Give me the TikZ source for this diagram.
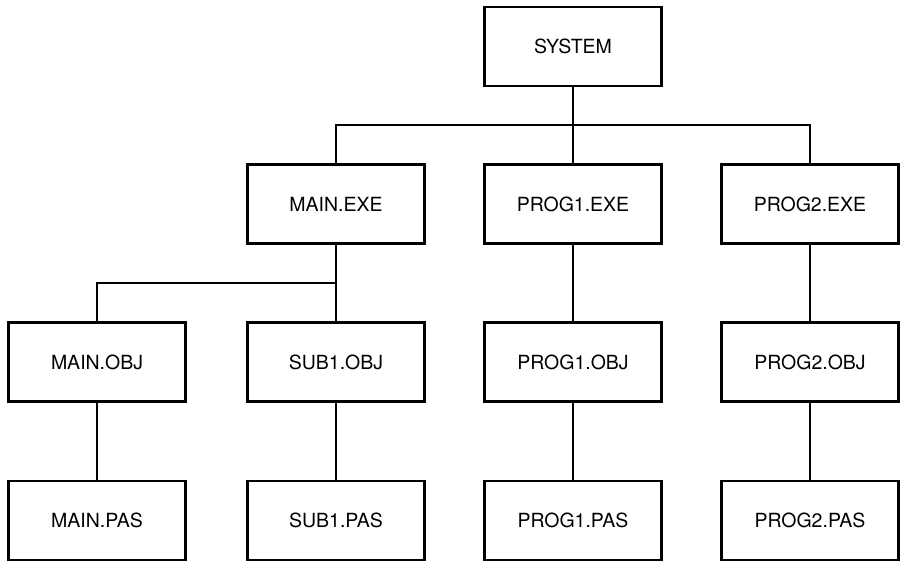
\documentclass[tikz,border=0pt]{standalone}
\usepackage{fontspec}
\setmainfont{TeX Gyre Heros}
\begin{document}
\begin{tikzpicture}[x=1pt,y=-1pt,
  filebox/.style={draw, line width=2.2pt, minimum width=177pt, minimum height=79pt, inner sep=0pt, font=\fontsize{19.5}{22}\selectfont},
  link/.style={line width=2.2pt}]
\useasboundingbox (0,0) rectangle (901,562);
\node[filebox] (sys) at (573,46.5) {SYSTEM};
\node[filebox] (mexe) at (336,204) {MAIN.EXE};
\node[filebox] (p1exe) at (573,204) {PROG1.EXE};
\node[filebox] (p2exe) at (810,204) {PROG2.EXE};
\node[filebox] (mobj) at (97,362) {MAIN.OBJ};
\node[filebox] (sobj) at (336,362) {SUB1.OBJ};
\node[filebox] (p1obj) at (573,362) {PROG1.OBJ};
\node[filebox] (p2obj) at (810,362) {PROG2.OBJ};
\node[filebox] (mpas) at (97,520.5) {MAIN.PAS};
\node[filebox] (spas) at (336,520.5) {SUB1.PAS};
\node[filebox] (p1pas) at (573,520.5) {PROG1.PAS};
\node[filebox] (p2pas) at (810,520.5) {PROG2.PAS};
\coordinate (bar1) at (0,125);
\coordinate (bar2) at (0,283);
\draw[link] (sys.south) -- (sys.south |- bar1);
\draw[link] (mexe.north) -- (mexe.north |- bar1) -- (p2exe.north |- bar1) -- (p2exe.north);
\draw[link] (p1exe.north) -- (p1exe.north |- bar1);
\draw[link] (mexe.south) -- (sobj.north);
\draw[link] (mobj.north) -- (mobj.north |- bar2) -- (sobj.north |- bar2);
\draw[link] (p1exe) -- (p1obj);
\draw[link] (p2exe) -- (p2obj);
\draw[link] (mobj) -- (mpas);
\draw[link] (sobj) -- (spas);
\draw[link] (p1obj) -- (p1pas);
\draw[link] (p2obj) -- (p2pas);
\end{tikzpicture}
\end{document}
